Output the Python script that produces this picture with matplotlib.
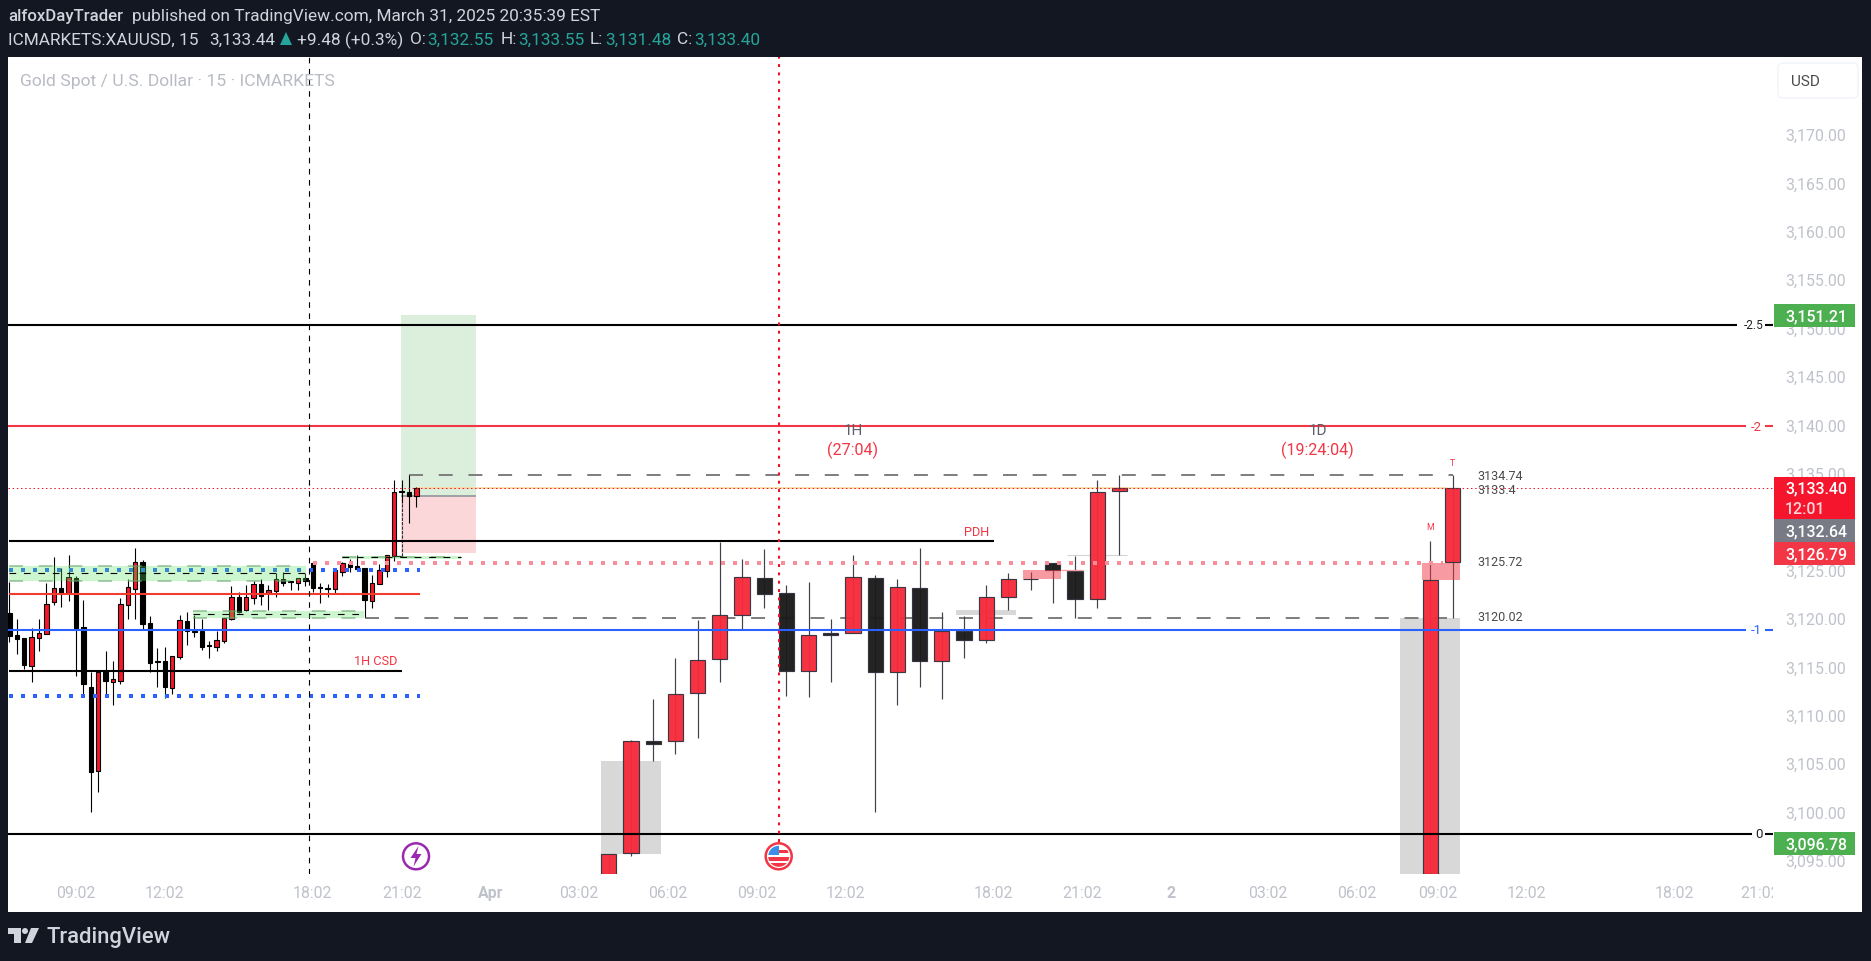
import matplotlib
matplotlib.use("Agg")
import matplotlib.pyplot as plt
from matplotlib.patches import Rectangle, Circle, Polygon, FancyBboxPatch
from matplotlib.transforms import Affine2D, Bbox, blended_transform_factory

plt.rcParams['font.family'] = ['Roboto', 'DejaVu Sans']

# 15-minute candles
ltf_open = [3120.51,3118.24,3117.93,3115.07,3117.96,3118.38,3121.68,3123.06,3122.54,3124.09,3119.03,3112.87,3104.22,3114.52,3113.42,3113.52,3121.37,3123.03,3125.75,3119.44,3115.55,3115.52,3112.80,3116.00,3119.68,3118.65,3118.62,3117.20,3117.03,3117.62,3119.89,3122.13,3120.79,3122.10,3123.47,3122.54,3122.82,3123.99,3123.80,3123.65,3124.09,3125.64,3123.18,3123.08,3123.03,3124.78,3125.57,3125.33,3125.16,3121.79,3123.54,3124.89,3126.44,3133.08,3133.05,3132.55]
ltf_high = [3123.68,3119.89,3117.93,3118.93,3119.89,3123.61,3126.26,3125.13,3126.50,3124.37,3121.85,3114.45,3114.50,3116.55,3115.52,3122.06,3124.02,3127.19,3125.95,3120.17,3116.90,3116.96,3116.10,3120.27,3120.65,3120.31,3119.89,3117.65,3118.65,3119.96,3123.27,3122.65,3123.40,3123.85,3124.02,3123.40,3124.65,3124.71,3123.80,3124.09,3124.61,3125.75,3123.61,3123.51,3124.95,3125.82,3126.09,3126.50,3125.16,3124.44,3125.54,3126.50,3134.26,3134.26,3134.80,3133.55]
ltf_low = [3117.55,3116.28,3114.73,3113.42,3116.62,3118.38,3121.34,3121.17,3121.79,3114.04,3111.97,3099.99,3102.06,3111.97,3111.04,3113.18,3119.89,3119.89,3118.86,3114.38,3112.90,3111.70,3112.14,3115.76,3117.24,3118.07,3116.72,3115.90,3116.59,3117.45,3119.82,3120.51,3120.68,3121.44,3121.34,3120.86,3122.20,3123.34,3122.92,3122.92,3123.34,3122.72,3121.54,3122.20,3122.54,3124.33,3124.78,3125.06,3120.06,3121.06,3123.51,3124.23,3125.92,3131.88,3129.81,3131.48]
ltf_close = [3118.17,3117.82,3115.17,3118.00,3118.41,3121.41,3123.06,3122.58,3124.20,3119.00,3113.18,3104.12,3114.45,3113.52,3113.66,3121.41,3123.16,3125.75,3119.37,3115.38,3115.50,3112.90,3116.03,3119.75,3118.62,3118.60,3117.00,3117.15,3117.69,3119.96,3122.13,3120.65,3122.13,3123.47,3122.30,3122.85,3123.99,3123.65,3123.76,3124.09,3123.85,3123.13,3123.14,3123.04,3124.92,3125.64,3125.26,3125.09,3121.89,3123.58,3124.92,3126.47,3133.02,3133.02,3132.57,3133.40]

# higher-timeframe candles drawn by the indicator (slot = number of 45-minute steps)
htf_slot = [0,1,2,3,4,5,6,7,8,9,10,11,12,13,14,15,16,17,18,19,20,21,22,23,37,38]
htf_open = [3093.55,3095.69,3107.26,3107.26,3112.22,3115.73,3120.34,3124.10,3122.55,3114.56,3118.45,3118.49,3124.10,3114.46,3123.07,3115.59,3118.62,3117.76,3122.21,3124.05,3125.65,3124.82,3121.93,3133.09,3093.55,3125.75]
htf_high = [3095.62,3107.40,3111.63,3115.87,3119.79,3127.89,3126.10,3127.13,3123.41,3123.72,3119.90,3126.51,3124.44,3124.03,3127.23,3120.59,3120.24,3123.41,3124.65,3124.79,3125.65,3126.41,3134.26,3134.77,3127.95,3134.77]
htf_low = [3093.55,3095.45,3105.26,3105.95,3107.60,3113.42,3118.83,3121.03,3111.94,3111.87,3113.42,3118.49,3099.99,3111.05,3112.91,3111.63,3115.87,3117.42,3120.86,3122.93,3121.59,3120.00,3121.07,3126.51,3093.55,3120.00]
htf_close = [3095.62,3107.26,3107.02,3112.11,3115.63,3120.28,3124.20,3122.52,3114.56,3118.21,3118.28,3124.20,3114.46,3123.17,3115.59,3118.62,3117.76,3122.14,3124.00,3124.00,3125.00,3122.00,3132.98,3133.40,3123.89,3133.40]

price_ticks = [3095,3100,3105,3110,3115,3120,3125,3130,3135,3140,3145,3150,3155,3160,3165,3170]
time_ticks = [9,21,41,53,65,77,89,101,113,133,145,157,170,182,193,205,225,236.5]
time_labels = ['09:02','12:02','18:02','21:02','Apr','03:02','06:02','09:02','12:02','18:02','21:02','2','03:02','06:02','09:02','12:02','18:02','21:02']

LEV_M25, LEV_M2, LEV_M1, LEV_0 = 3150.30, 3139.82, 3118.76, 3097.69
PDH, MID, CSD = 3127.98, 3122.48, 3114.52
BLUE_HI, BLUE_LO = 3124.96, 3111.94
LEVEL_A, LEVEL_B, LEVEL_C, LEVEL_D = 3134.74, 3133.40, 3125.72, 3120.02
TP, ENTRY, SL = 3151.30, 3132.57, 3126.70

W, H = 1871, 962
DARK = '#131722'
fig = plt.figure(figsize=(W/100, H/100), dpi=100, facecolor=DARK)
PX = Affine2D().scale(1, -1).translate(0, H)

fig.add_artist(Rectangle((8, 58), 1854, 855, transform=PX, fc='white', ec='none', zorder=-1))

ax = fig.add_axes([8/W, 1-875/H, 1765/W, 817/H])
ax.set_facecolor('white')
for s in ax.spines.values():
    s.set_visible(False)
XL, XR = -0.18, 238.3
ax.set_xlim(XL, XR)
ax.set_ylim(3093.55, 3177.95)

RED = '#f6162a'
# background boxes
def box(x0, x1, y0, y1, c, z=1, a=1.0):
    ax.add_patch(Rectangle((x0, y0), x1-x0, y1-y0, fc=c, ec='none', zorder=z, alpha=a))
box(52.9, 63.06, ENTRY, TP, '#dcefdc')
box(52.9, 63.06, SL, ENTRY, '#fcd7da')
box(79.95, 88.06, 3095.6, 3105.23, '#d8d8d8')
box(187.93, 196.04, 3093.55, 3120.02, '#d8d8d8')
box(127.93, 136.04, 3120.31, 3120.83, '#d8d8d8')
ax.hlines(ENTRY, 52.9, 63.06, color='#8a8d96', lw=1.1, zorder=1.5)
ax.hlines(3126.5, 142.93, 151, color='#d4d4d4', lw=0.8, zorder=1.5)

# gray dashed levels
gray_dash = dict(color='#808080', lw=1.44, linestyle=(0, (7, 7.85)), zorder=2)
ax.plot([48.06, 194.3], [LEVEL_D, LEVEL_D], **gray_dash)
ax.plot([54, 195.05], [LEVEL_A, LEVEL_A], **gray_dash)

# orange marker under the last-price line
ax.plot([55.05, 194], [LEVEL_B, LEVEL_B], color='#ffd9a0', lw=1.2, zorder=2)

# 15 minute candles
xs = list(range(len(ltf_open)))
ax.vlines(xs, ltf_low, ltf_high, color='black', lw=0.8, zorder=3)
for i, (o, c) in enumerate(zip(ltf_open, ltf_close)):
    ax.bar(i, abs(c-o), bottom=min(o, c), width=0.6, color=RED if c >= o else 'black',
           edgecolor='black', linewidth=0.8, zorder=3.2)

# higher timeframe candles
hx = [81 + 3*s for s in htf_slot]
ax.vlines(hx, htf_low, htf_high, color='#40404c', lw=0.85, zorder=4)
for x, o, c in zip(hx, htf_open, htf_close):
    ax.bar(x, abs(c-o), bottom=min(o, c), width=2.05, color='#f62a3b' if c >= o else '#1a1a1a',
           edgecolor='#33333f', linewidth=0.85, zorder=4.2, alpha=0.96)

# pink zones (above big candles)
box(190.9, 196.04, 3123.93, 3125.72, '#f23645', z=4.5, a=0.5)
box(136.98, 142.1, 3124.03, 3124.96, '#f23645', z=4.5, a=0.5)
ax.hlines(3124.94, 142.1, 145.05, color='#f79aa2', lw=0.9, zorder=4.5)

# horizontal levels
ax.plot([XL, 233.5], [LEV_M25]*2, color='black', lw=1.5, zorder=6, solid_capstyle='butt')
ax.plot([XL, 234.7], [LEV_M2]*2, color='#f23645', lw=1.5, zorder=6, solid_capstyle='butt')
ax.plot([XL, 234.7], [LEV_M1]*2, color='#2962ff', lw=1.5, zorder=6, solid_capstyle='butt')
ax.plot([XL, 235.4], [LEV_0]*2, color='black', lw=1.5, zorder=6, solid_capstyle='butt')
for lev, c in [(LEV_M25, 'black'), (LEV_M2, '#f23645'), (LEV_M1, '#2962ff'), (LEV_0, 'black')]:
    ax.plot([237.2, XR], [lev]*2, color=c, lw=1.5, zorder=6, solid_capstyle='butt')
ax.plot([-0.04, 133.06], [PDH]*2, color='black', lw=1.5, zorder=6, solid_capstyle='butt')
ax.plot([-0.04, 55.5], [MID]*2, color='#f23c30', lw=1.5, zorder=6, solid_capstyle='butt')
ax.plot([-0.04, 53.07], [CSD]*2, color='black', lw=1.5, zorder=6, solid_capstyle='butt')

blue_dots = dict(color='#2962ff', lw=2.88, linestyle=(0, (1, 2)), zorder=6, solid_capstyle='butt', dash_capstyle='butt')
ax.plot([-0.04, 55.5], [BLUE_HI]*2, **blue_dots)
ax.plot([-0.04, 55.5], [BLUE_LO]*2, **blue_dots)
ax.plot([41.04, 193.7], [LEVEL_C]*2, color='#f98d99', lw=2.88, linestyle=(0, (1, 2)), zorder=6, dash_capstyle='butt')

# last price dotted
ax.plot([XL, XR], [LEVEL_B]*2, color='#e8182c', lw=0.75, linestyle=(0, (1.4, 2.6)), zorder=6.5)

# verticals
ax.plot([40.54, 40.54], [3093.55, 3177.95], color='black', lw=0.8, linestyle=(0, (5, 5)), zorder=6)
ax.plot([103.97, 103.97], [3096.9, 3177.95], color='#f0102a', lw=1.5, linestyle=(0, (1.4, 2.6)), zorder=6.5, dash_capstyle='butt')
ax.plot([53, 53], [3126.45, 3131.88], color='#333333', lw=0.8, linestyle=(0, (3, 1)), zorder=5)
ax.plot([52, 53], [3126.45, 3126.45], color='black', lw=0.9, zorder=5)

# green zones
zones = [(-0.04, 40.09, 3123.85, 3125.37, 3124.60), (24.86, 47.97, 3120.03, 3120.75, 3120.38), (44.9, 61.0, 3126.14, 3126.42, 3126.27)]
for x0, x1, y0, y1, ym in zones:
    box(x0, x1, y0, y1, '#58e45f', z=7, a=0.3)
    border = dict(color='#6aa56e', alpha=0.55, lw=1.44, linestyle=(0, (7, 7.85)), zorder=7.1)
    if y1 - y0 > 0.5:
        ax.plot([x0, x1], [y1, y1], **border)
        ax.plot([x0, x1], [y0, y0], **border)
    else:
        ax.plot([x0, x1], [ym, ym], **border)
    ax.plot([x0, x1], [ym, ym], color='black', lw=0.8, linestyle=(0, (6, 7)), zorder=7.2)

# level tags of the fib lines
txt_kw = dict(ha='center', va='center', zorder=8, family=['Roboto'])
ax.text(235.75, LEV_M25, '-2.5', color='#222222', fontsize=8.5, **txt_kw)
ax.text(236.0, LEV_M2, '-2', color='#f23645', fontsize=9.5, **txt_kw)
ax.text(236.0, LEV_M1, '-1', color='#2962ff', fontsize=9.5, **txt_kw)
ax.text(236.35, LEV_0, '0', color='#222222', fontsize=9.5, **txt_kw)

ax.text(49.5, 3115.65, '1H CSD', color='#f23645', fontsize=9.2, **txt_kw)
ax.text(130.7, 3128.95, 'PDH', color='#f23645', fontsize=9.2, **txt_kw)
ax.text(114, 3139.4, '1H', color='#5d606b', fontsize=11, **txt_kw)
ax.text(114, 3137.45, '(27:04)', color='#f23645', fontsize=11.6, **txt_kw)
ax.text(176.8, 3139.4, '1D', color='#5d606b', fontsize=11, **txt_kw)
ax.text(176.8, 3137.45, '(19:24:04)', color='#f23645', fontsize=11.6, **txt_kw)
ax.text(195, 3136.1, 'T', color='#f23645', fontsize=6.2, **txt_kw)
ax.text(192, 3129.5, 'M', color='#f23645', fontsize=6.2, **txt_kw)

for val, lab in [(LEVEL_A, '3134.74'), (3133.32, '3133.4'), (3125.80, '3125.72'), (3120.15, '3120.02')]:
    ax.text(198.3, val, lab, color='#4a4a4a', fontsize=9, ha='left', va='center', zorder=8)

# axes ticks
ax.yaxis.tick_right()
ax.set_yticks(price_ticks)
ax.set_yticklabels([f'{p:,.2f}' for p in price_ticks], fontsize=11.4, color='#bfc2ca')
ax.tick_params(axis='y', length=0, pad=8.6)
ax.set_xticks(time_ticks)
ax.set_xticklabels(time_labels, fontsize=11.4, color='#bfc2ca')
ax.tick_params(axis='x', length=0, pad=8.2)
for lab, t in zip(ax.get_xticklabels(), time_labels):
    if t in ('Apr', '2'):
        lab.set_fontweight('bold')
ax.get_xticklabels()[-1].set_clip_on(True)
ax.get_xticklabels()[-1].set_clip_box(Bbox([[8, 0], [1773, H]]))

# price tags
tr = blended_transform_factory(ax.transAxes, ax.transData)
FX0 = 1 + 1/1765
FW = 81/1765
tags = [(3151.21, 2.38, '#4caf50', '3,151.21'), (3096.70, 2.38, '#4caf50', '3,096.78'),
        (3132.40, 4.34, '#f5152c', None), (3129.04, 2.38, '#787b86', '3,132.64'), (3126.66, 2.38, '#f23645', '3,126.79')]
TX = 1 + 12/1765
for yc, hh, col, label in tags:
    ax.add_patch(Rectangle((FX0, yc-hh/2), FW, hh, transform=tr, fc=col, ec='none', zorder=9, clip_on=False))
    if label:
        ax.text(TX, yc, label, transform=tr, color='white', fontsize=11.4, weight='medium', va='center', ha='left', zorder=10, clip_on=False)
ax.text(TX, 3133.40, '3,133.40', transform=tr, color='white', fontsize=11.4, weight='medium', va='center', ha='left', zorder=10)
ax.text(TX, 3131.30, '12:01', transform=tr, color='#ffd5d9', fontsize=11.4, weight='medium', va='center', ha='left', zorder=10)

# USD button
fig.add_artist(FancyBboxPatch((1782, 68), 72, 27, boxstyle='round,pad=4,rounding_size=5', transform=PX,
                              fc='white', ec='#f0f3fa', lw=1, zorder=5))
fig.text(1790.5/W, 1-81.5/H, 'USD', color='#4a4a4a', fontsize=11, va='center', ha='left', zorder=6)

# chart title
fig.text(20/W, 1-82/H, 'Gold Spot / U.S. Dollar · 15 · ICMARKETS', color='#b8bbc4', fontsize=12.6, va='center', ha='left', zorder=6)

# header
HC = '#d1d4dc'
TEAL = '#26a69a'
fig.text(8/W, 1-17/H, 'alfoxDayTrader', color=HC, fontsize=12.1, weight='medium', va='center')
fig.text(131.5/W, 1-17/H, 'published on TradingView.com, March 31, 2025 20:35:39 EST', color=HC, fontsize=12.4, va='center')
segs = [(8, 'ICMARKETS:XAUUSD, 15', HC), (209, '3,133.44', HC), (297, '+9.48 (+0.3%)', HC), (410, 'O:', HC),
        (427.5, '3,132.55', TEAL), (501, 'H:', HC), (518, '3,133.55', TEAL), (590, 'L:', HC), (605, '3,131.48', TEAL),
        (677.5, 'C:', HC), (694, '3,133.40', TEAL)]
for x, s, c in segs:
    fig.text(x/W, 1-40/H, s, color=c, fontsize=12.4, va='center')
fig.add_artist(Polygon([(280, 46), (292, 46), (286, 33)], transform=PX, fc=TEAL, ec='none', zorder=5))

# event icons
def icon_ring(cx, cy, col):
    fig.add_artist(Circle((cx, cy), 13, transform=PX, fc='white', ec=col, lw=1.8, zorder=5))
icon_ring(416, 857.3, '#9c27b0')
fig.add_artist(Polygon([(418.5, 847), (410.5, 859), (415.5, 859), (413.5, 867.5), (421.5, 855), (416.5, 855)],
                       transform=PX, fc='#9c27b0', ec='none', zorder=6))
fx, fy = 778.7, 857.3
icon_ring(fx, fy, '#f23645')
clip = Circle((fx, fy), 10.5, transform=PX)
for (x0, y0, w0, h0, c0) in [(fx-11, fy-11, 11, 10, '#3d8ee8'), (fx, fy-6, 11, 3, '#f23645'),
                             (fx-11, fy+0.5, 22, 4, '#f23645'), (fx-11, fy+6.5, 22, 5, '#f23645')]:
    r = Rectangle((x0, y0), w0, h0, transform=PX, fc=c0, ec='none', zorder=6)
    fig.add_artist(r)
    r.set_clip_path(clip)

# TradingView logo
LOGO = '#d1d4dc'
fig.add_artist(Polygon([(8, 929), (21, 929), (21, 944), (14, 944), (14, 935), (8, 935)], transform=PX, fc=LOGO, ec='none'))
fig.add_artist(Circle((25, 932), 3, transform=PX, fc=LOGO, ec='none'))
fig.add_artist(Polygon([(31, 929), (39, 929), (32, 944), (25, 944)], transform=PX, fc=LOGO, ec='none'))
fig.text(46.5/W, 1-938/H, 'TradingView', color=LOGO, fontsize=15.8, weight='medium', va='center', ha='left')

fig.savefig('out.png', dpi=100, facecolor=DARK)
